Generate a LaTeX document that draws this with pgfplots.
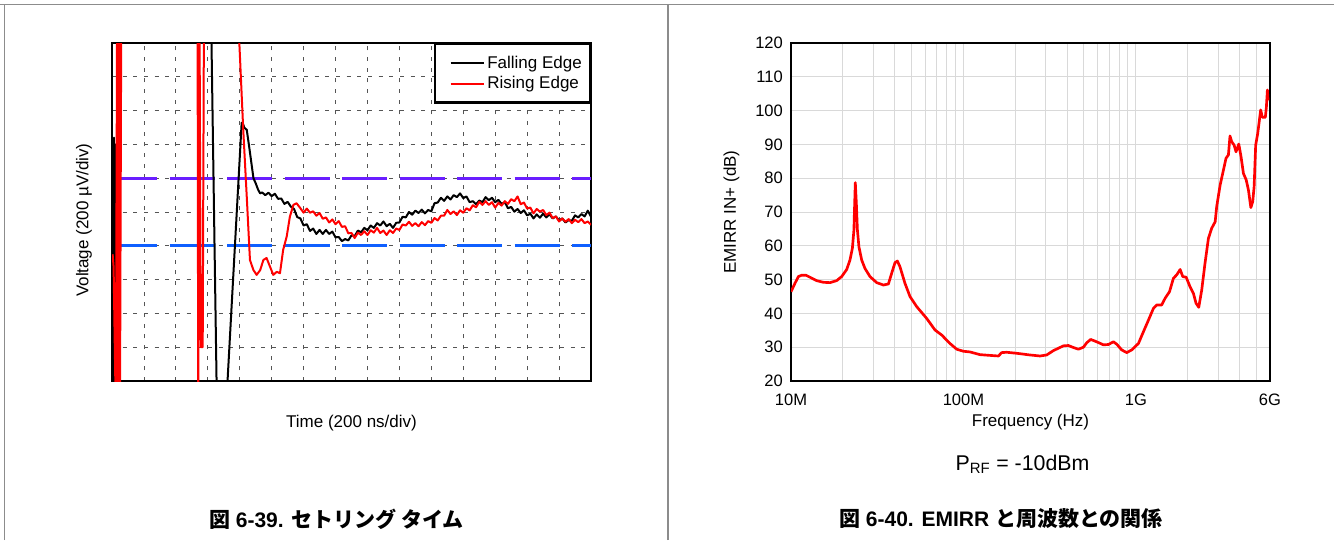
\documentclass[border=0pt]{standalone}
\usepackage{fontspec}
\setmainfont{Liberation Sans}
\newfontfamily\cjk{Noto Sans CJK JP}
\usepackage{pgfplots}
\pgfplotsset{compat=1.18}
\definecolor{purpleline}{HTML}{6A1EFF}
\definecolor{blueline}{HTML}{0F5FFF}
\definecolor{gridgray}{HTML}{D9D9D9}
\definecolor{framegray}{HTML}{8C8C8C}
\definecolor{scopegrid}{HTML}{555555}
\begin{document}
\begin{tikzpicture}
\useasboundingbox (0,0) rectangle (1000.5pt,405pt);
\begin{scope}[x=0.75pt,y=0.75pt]
\draw[framegray, line width=1pt] (0,535.5) -- (1334,535.5);
\draw[framegray, line width=1pt] (4.5,0) -- (4.5,535.5);
\draw[framegray, line width=1pt] (668,0) -- (668,535.5);
\node[anchor=base, font=\fontsize{16}{19}\selectfont] at (1022.5,70) {P\textsubscript{RF} = -10dBm};
\node[font=\fontsize{15.75}{18}\selectfont\bfseries] at (336.5,21) {{\cjk 図} 6-39. {\cjk セトリング タイム}};
\node[font=\fontsize{15.75}{18}\selectfont\bfseries] at (1001,21) {{\cjk 図} 6-40. EMIRR {\cjk と周波数との関係}};
\end{scope}

% ---------------- left: settling time ----------------
\begin{axis}[
 at={(84pt,119.25pt)}, anchor=south west, scale only axis,
 width=359.25pt, height=253.5pt,
 xmin=0, xmax=15, ymin=-5, ymax=5,
 xtick={0,...,15}, ytick={-5,...,5},
 xticklabels={}, yticklabels={},
 major tick length=0pt,
 grid=major,
 major grid style={scopegrid, line width=0.6pt, dash pattern=on 3pt off 5pt},
 axis line style={line width=2pt},
 xlabel={Time (200 ns/div)},
 ylabel={Voltage (200 µV/div)},
 label style={font=\fontsize{12.75}{15}\selectfont},
 xlabel style={at={(axis description cs:0.5,-0.1243)}, anchor=center},
 ylabel style={at={(axis description cs:-0.0585,0.476)}, anchor=center},
 legend cell align=left,
 legend style={at={(1,1)}, anchor=north east, draw=black, line width=1.8pt, fill=white,
   font=\fontsize{12.75}{15}\selectfont, inner xsep=4pt, inner ysep=6.75pt, row sep=0.75pt},
 legend image code/.code={\path (-6.75pt,0pt); \draw[#1] (0pt,0pt) -- (24.75pt,0pt);},
]
\addplot[forget plot, color=purpleline, line width=2.2pt, dash pattern=on 33.75pt off 9.4pt] coordinates {(0,1) (15,1)};
\addplot[forget plot, color=blueline, line width=2.2pt, dash pattern=on 33.75pt off 9.4pt] coordinates {(0,-1) (15,-1)};
\addplot[black, line width=1.5pt, line join=round] coordinates {
(0.00,2.2) (0.03,-6) (0.06,2.2) (0.09,-6) (0.12,2.0) (0.13,-6) (0.21,-6) (0.22,6) (3.10,6) (3.29,-6) (3.56,-6)
(4.06,2.64) (4.10,2.62) (4.14,2.50) (4.22,2.43) (4.30,1.90) (4.43,1.00) (4.50,0.85) (4.58,0.65)
(4.64,0.55) (4.7,0.58) (4.8,0.50) (4.9,0.57) (5.0,0.47) (5.1,0.54) (5.2,0.39) (5.3,0.40) (5.4,0.24) (5.5,0.30)
(5.6,0.16) (5.7,0.09) (5.8,-0.15) (5.9,-0.19) (6.0,-0.40) (6.1,-0.36) (6.2,-0.56) (6.3,-0.49) (6.4,-0.65) (6.5,-0.53)
(6.6,-0.65) (6.7,-0.53) (6.8,-0.65) (6.9,-0.58) (7.0,-0.75) (7.1,-0.74) (7.2,-0.86) (7.3,-0.80) (7.4,-0.84) (7.5,-0.69)
(7.6,-0.71) (7.7,-0.55) (7.8,-0.60) (7.9,-0.47) (8.0,-0.54) (8.1,-0.40) (8.2,-0.47) (8.3,-0.33) (8.4,-0.40) (8.5,-0.28)
(8.6,-0.42) (8.7,-0.35) (8.8,-0.47) (8.9,-0.32) (9.0,-0.31) (9.1,-0.14) (9.2,-0.16) (9.3,0.00) (9.4,-0.08) (9.5,0.04)
(9.6,-0.03) (9.7,0.07) (9.8,-0.04) (9.9,0.06) (10.0,0.02) (10.1,0.26) (10.2,0.28) (10.3,0.42) (10.4,0.33) (10.5,0.46)
(10.6,0.37) (10.7,0.50) (10.8,0.44) (10.9,0.55) (11.0,0.41) (11.1,0.46) (11.2,0.29) (11.3,0.32) (11.4,0.23) (11.5,0.34)
(11.6,0.29) (11.7,0.44) (11.8,0.35) (11.9,0.42) (12.0,0.29) (12.1,0.36) (12.2,0.24) (12.3,0.29) (12.4,0.11) (12.5,0.15)
(12.6,0.01) (12.7,0.09) (12.8,-0.03) (12.9,0.05) (13.0,-0.10) (13.1,-0.05) (13.2,-0.19) (13.3,-0.07) (13.4,-0.17) (13.5,-0.05)
(13.6,-0.16) (13.7,-0.07) (13.8,-0.19) (13.9,-0.13) (14.0,-0.25) (14.1,-0.19) (14.2,-0.31) (14.3,-0.24) (14.4,-0.26) (14.5,-0.10)
(14.6,-0.16) (14.7,-0.06) (14.8,-0.13) (14.9,0.04) (15.0,-0.14)
};
\addlegendentry{Falling Edge}
\addplot[red, line width=1.5pt, line join=round] coordinates {
(0.02,-1.25) (0.05,-1.62) (0.12,-6) (0.16,6) (0.19,-6) (0.22,6) (0.25,-6) (0.29,6)
(2.68,6) (2.70,-6) (2.74,6) (2.78,-4.0) (2.84,-4.0) (2.88,6) (3.94,6)
(4.11,2.43) (4.22,0.45) (4.32,-1.42) (4.43,-1.72) (4.53,-1.86) (4.64,-1.72) (4.74,-1.42) (4.84,-1.36) (4.95,-1.62)
(5.05,-1.86) (5.16,-1.77) (5.26,-1.81) (5.36,-1.12) (5.47,-0.73) (5.57,-0.14) (5.68,0.21) (5.78,0.26)
(5.9,0.11) (6.0,-0.02) (6.1,0.10) (6.2,-0.02) (6.3,0.02) (6.4,-0.11) (6.5,-0.03) (6.6,-0.20) (6.7,-0.16) (6.8,-0.31)
(6.9,-0.22) (7.0,-0.36) (7.1,-0.27) (7.2,-0.44) (7.3,-0.42) (7.4,-0.63) (7.5,-0.62) (7.6,-0.77) (7.7,-0.61) (7.8,-0.68)
(7.9,-0.57) (8.0,-0.68) (8.1,-0.54) (8.2,-0.61) (8.3,-0.47) (8.4,-0.62) (8.5,-0.55) (8.6,-0.68) (8.7,-0.54) (8.8,-0.62)
(8.9,-0.49) (9.0,-0.53) (9.1,-0.37) (9.2,-0.40) (9.3,-0.29) (9.4,-0.41) (9.5,-0.33) (9.6,-0.42) (9.7,-0.30) (9.8,-0.39)
(9.9,-0.27) (10.0,-0.32) (10.1,-0.18) (10.2,-0.25) (10.3,-0.11) (10.4,-0.11) (10.5,0.06) (10.6,-0.06) (10.7,0.02) (10.8,-0.09)
(10.9,0.05) (11.0,-0.02) (11.1,0.11) (11.2,0.05) (11.3,0.20) (11.4,0.14) (11.5,0.30) (11.6,0.21) (11.7,0.32) (11.8,0.21)
(11.9,0.29) (12.0,0.13) (12.1,0.27) (12.2,0.19) (12.3,0.32) (12.4,0.24) (12.5,0.38) (12.6,0.32) (12.7,0.46) (12.8,0.23)
(12.9,0.28) (13.0,0.10) (13.1,0.13) (13.2,-0.04) (13.3,0.09) (13.4,0.01) (13.5,0.06) (13.6,-0.09) (13.7,-0.02) (13.8,-0.18)
(13.9,-0.13) (14.0,-0.28) (14.1,-0.19) (14.2,-0.29) (14.3,-0.21) (14.4,-0.33) (14.5,-0.23) (14.6,-0.30) (14.7,-0.21) (14.8,-0.33)
(14.9,-0.28) (15.0,-0.38)
};
\addlegendentry{Rising Edge}
\end{axis}

% ---------------- right: EMIRR vs frequency ----------------
\begin{axis}[
 at={(593.25pt,119.25pt)}, anchor=south west, scale only axis,
 width=359.25pt, height=253.5pt,
 xmode=log, xmin=10, xmax=6000, ymin=20, ymax=120,
 xtick={10,100,1000,6000}, xticklabels={10M,100M,1G,6G},
 minor xtick={20,30,40,50,60,70,80,90,200,300,400,500,600,700,800,900,2000,3000,4000,5000},
 ytick={20,30,...,120},
 grid=both,
 major grid style={gridgray, line width=0.75pt},
 minor grid style={gridgray, line width=0.75pt},
 major tick length=0pt, minor tick length=0pt,
 axis line style={line width=2pt},
 /pgf/number format/assume math mode=true,
 tick label style={font=\fontsize{12.4}{14}\selectfont},
 xticklabel style={yshift=-6.4pt},
 yticklabel style={xshift=-2.6pt},
 xlabel={Frequency (Hz)}, ylabel={EMIRR IN+ (dB)},
 label style={font=\fontsize{12.75}{15}\selectfont},
 xlabel style={at={(axis description cs:0.5,-0.121)}, anchor=center},
 ylabel style={at={(axis description cs:-0.1242,0.5)}, anchor=center},
]
\addplot[red, line width=2pt, line join=round] coordinates {
(10.0,46.4) (10.54,48.9) (11.04,50.9) (11.53,51.3) (12.2,51.3) (12.88,50.7) (14.09,49.7) (15.42,49.2) (16.83,49.1)
(18.41,49.7) (19.68,50.9) (21.04,53.0) (21.98,55.8) (22.70,59.3) (23.17,64.7) (23.28,68.6) (23.60,78.7) (23.93,72.6)
(24.27,64.7) (24.77,59.7) (25.70,55.8) (26.85,53.3) (28.71,50.9) (31.41,49.1) (34.36,48.4) (36.73,48.7) (38.37,51.9)
(40.09,55.0) (41.40,55.5) (42.85,53.8) (45.81,48.9) (48.98,45.0) (53.58,42.0) (61.24,38.5) (68.39,35.1) (74.82,33.6)
(83.56,31.1) (91.41,29.4) (100,28.8) (109.1,28.6) (124.7,27.8) (149.3,27.5) (159.6,27.4) (166.7,28.4) (178.2,28.5)
(203.7,28.2) (243.2,27.7) (278.0,27.4) (304.1,27.7) (332.7,29.0) (380.2,30.4) (406.4,30.5) (434.5,29.9) (464.5,29.4)
(496.6,30.0) (518.8,31.3) (547.0,32.3) (592.9,31.6) (648.6,30.7) (693.4,30.8) (741.3,31.6) (774.5,30.9) (827.9,29.2)
(885.1,28.4) (946.2,29.2) (1035,31.1) (1107,34.6) (1183,38.0) (1265,41.5) (1321,42.5) (1413,42.5) (1479,44.5)
(1567,46.4) (1652,50.4) (1726,51.4) (1807,53.0) (1871,50.9) (1959,50.7) (2061,47.9) (2158,45.9) (2234,43.0)
(2317,41.8) (2410,46.9) (2518,54.8) (2636,62.2) (2754,65.2) (2884,67.1) (2944,71.6) (3083,78.0) (3221,82.4)
(3334,85.9) (3443,86.9) (3516,92.5) (3597,90.8) (3715,89.8) (3811,87.8) (3954,90.1) (4074,86.4) (4207,81.4)
(4365,79.5) (4498,76.5) (4645,71.3) (4764,73.1) (4853,77.5) (4955,89.8) (5093,93.3) (5297,100.2) (5420,98.0)
(5636,98.0) (5715,101.0) (5794,106.1) (5848,103.0)
};
\end{axis}
\end{tikzpicture}
\end{document}
